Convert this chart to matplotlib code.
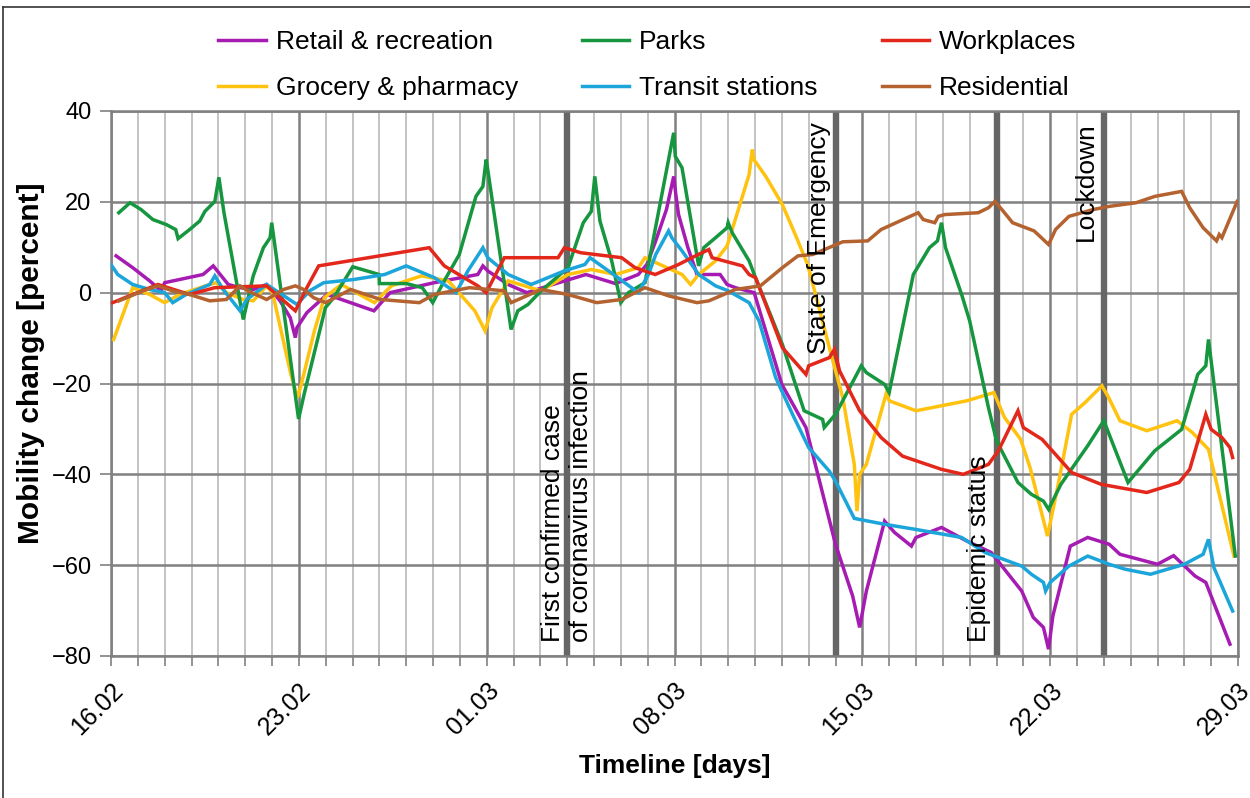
import matplotlib
matplotlib.use("Agg")
import matplotlib.pyplot as plt
from matplotlib.lines import Line2D
from matplotlib.ticker import MultipleLocator, FixedLocator

plt.rcParams['font.family'] = ['Liberation Sans', 'DejaVu Sans']

# ---- data (day index: 0 = 16.02, 42 = 29.03) ----
tick_days = [0, 7, 14, 21, 28, 35, 42]
tick_labels = ["16.02", "23.02", "01.03", "08.03", "15.03", "22.03", "29.03"]

retail_x = [0.19, 0.81, 1.44, 1.87, 2.0, 3.43, 3.81, 4.37, 4.81, 5.3, 5.8, 6.3, 6.68, 6.87, 6.93, 7.3, 8.05, 9.8, 10.4,
            12.05, 13.67, 13.86, 14.04, 14.8, 15.5, 16.3, 17.7, 18.8, 19.65, 19.97, 20.3, 20.7, 20.97, 21.05, 21.15, 21.5,
            21.84, 22.7, 22.96, 23.27, 23.97, 25.0, 25.9, 27.0, 27.64, 27.9, 28.15, 28.83, 29.2, 29.83, 30.0, 30.95, 31.9,
            32.8, 33.94, 34.37, 34.75, 34.94, 35.1, 35.75, 36.4, 37.2, 37.6, 39.0, 39.6, 40.4, 40.8, 41.7]
retail_y = [8.1, 5.5, 2.6, 0.4, 2.2, 4.0, 5.9, 1.8, 1.1, 0.7, 1.8, -1.8, -5.5, -9.9, -7.7, -4.4, -0.4, -4.0, 0.0,
            2.2, 4.0, 5.9, 4.8, 1.8, 0.0, 1.5, 4.0, 2.0, 4.0, 6.2, 11.4, 18.3, 25.6, 21.6, 17.2, 9.9,
            4.0, 4.0, 1.8, 1.1, 0.0, -20.2, -29.7, -55.4, -66.8, -73.7, -65.7, -50.3, -52.8, -55.8, -53.9, -51.7, -54.7,
            -57.2, -65.7, -71.5, -73.7, -78.5, -71.2, -55.8, -53.9, -55.4, -57.6, -59.8, -57.9, -62.4, -63.8, -77.4]

grocery_x = [0.1, 0.81, 1.44, 2.0, 2.56, 3.68, 3.93, 4.3, 4.93, 5.3, 5.8, 6.02, 6.7, 6.95, 7.08, 7.58, 7.95, 8.58, 9.82,
             10.45, 11.57, 12.57, 13.56, 13.94, 14.2, 14.8, 16.03, 17.03, 17.9, 18.8, 19.65, 19.9, 21.28, 21.6, 21.9,
             22.53, 22.96, 23.4, 23.78, 23.9, 23.96, 24.4, 25.02, 25.5, 25.96, 26.27, 26.77, 27.27, 27.7, 27.8, 27.9,
             28.15, 28.9, 29.0, 30.0, 31.9, 32.9, 33.3, 33.9, 34.25, 34.9, 35.3, 35.8, 36.3, 36.93, 37.18, 37.6, 38.6,
             39.73, 40.3, 40.9, 41.85]
grocery_y = [-10.3, 1.1, -0.4, -2.2, -0.4, 1.8, 2.2, 0.0, -1.5, -1.8, 1.5, 0.0, -17.9, -23.1, -20.5, -8.4, -1.1, 1.8, -2.2,
             1.5, 3.7, 2.6, -4.0, -8.4, -3.3, 2.6, 0.4, 4.0, 5.1, 4.0, 5.5, 7.7, 4.0, 1.8, 4.0,
             7.0, 10.3, 18.7, 26.0, 31.5, 29.3, 25.6, 19.4, 12.8, 6.2, -0.7, -12.1, -23.1, -37.8, -48.1, -40.0,
             -37.8, -22.0, -23.8, -26.0, -23.8, -22.0, -27.5, -32.3, -38.5, -53.6, -42.2, -26.8, -24.2, -20.5, -23.1, -28.2, -30.4,
             -28.2, -30.8, -34.5, -58.0]

parks_x = [0.29, 0.71, 1.12, 1.56, 2.06, 2.41, 2.5, 2.93, 3.31, 3.5, 3.87, 4.02, 4.21, 4.93, 5.3, 5.68, 5.93, 5.99, 6.99,
           7.2, 7.99, 8.3, 9.01, 9.99, 10.0, 11.01, 11.6, 11.99, 12.42, 12.98, 13.6, 13.86, 13.98, 14.04, 14.91, 15.16,
           15.54, 16.03, 17.03, 17.6, 17.9, 18.03, 18.22, 18.66, 19.0, 19.28, 19.9, 20.97, 21.03, 21.28, 21.9, 22.09,
           22.53, 22.96, 23.0, 23.15, 23.78, 24.02, 25.02, 25.83, 26.52, 26.58, 27.0, 27.96, 28.15, 28.83, 29.0, 29.9,
           30.5, 30.8, 30.95, 31.1, 31.7, 32.0, 32.7, 33.0, 33.8, 34.3, 34.75, 34.94, 35.4, 36.4, 37.0, 37.9, 38.9,
           39.9, 40.5, 40.8, 40.9, 41.9]
parks_y = [17.6, 19.8, 18.3, 16.1, 15.0, 13.9, 11.9, 13.9, 15.8, 17.9, 20.1, 25.4, 17.6, -5.9, 3.7, 9.9, 12.1, 15.4, -27.8,
           -22.3, -3.3, -1.1, 5.7, 4.0, 2.0, 2.0, 1.1, -2.2, 2.6, 8.4, 21.2, 23.4, 29.3, 27.1, -8.1, -4.0,
           -2.6, 0.4, 5.5, 15.4, 17.9, 25.6, 15.8, 7.0, -2.2, 0.0, 2.2, 35.2, 30.0, 27.5, 5.9, 9.9,
           12.1, 14.3, 15.4, 13.2, 7.0, 3.3, -11.4, -26.0, -27.9, -29.7, -26.8, -16.1, -17.6, -20.2, -22.0, 4.0,
           9.9, 11.4, 15.4, 9.9, -0.4, -6.2, -25.3, -32.6, -41.8, -44.4, -45.9, -47.7, -42.2, -33.7, -28.2, -41.8, -34.8,
           -30.1, -18.0, -16.1, -10.3, -58.0]

transit_x = [0.0, 0.25, 0.81, 1.44, 2.0, 2.3, 2.8, 3.68, 3.87, 4.18, 4.81, 5.06, 5.8, 6.93, 7.4, 7.93, 9.05, 10.2, 11.0,
             12.05, 12.86, 13.3, 13.86, 14.04, 14.8, 15.66, 16.9, 17.66, 17.85, 18.8, 19.65, 20.03, 20.3, 20.78, 20.9,
             21.28, 21.9, 22.53, 23.0, 23.78, 24.15, 24.77, 25.4, 26.0, 26.77, 27.0, 27.7, 28.83, 29.96, 31.7, 32.57,
             33.94, 34.3, 34.75, 34.83, 35.0, 35.7, 36.4, 37.2, 37.8, 38.74, 40.0, 40.7, 40.9, 41.1, 41.8]
transit_y = [6.2, 4.0, 1.8, 0.7, 0.0, -2.2, -0.4, 1.8, 3.7, 0.7, -4.0, -1.5, 1.8, -2.6, 0.4, 2.2, 2.9, 4.0, 5.9,
             3.3, 0.0, 4.8, 9.9, 7.7, 4.0, 1.8, 4.8, 6.2, 7.7, 3.7, 0.0, 4.0, 8.4, 13.6, 12.1,
             9.2, 4.0, 1.5, 0.4, -2.2, -6.2, -18.7, -26.8, -34.1, -39.3, -41.5, -49.7, -51.0, -52.1, -53.9, -57.2,
             -60.2, -62.0, -63.8, -65.7, -63.8, -60.2, -58.0, -59.8, -60.9, -62.0, -59.8, -57.6, -54.3, -60.5, -70.1]

work_x = [0.06, 0.81, 1.75, 2.93, 3.87, 5.8, 6.87, 7.3, 7.74, 11.86, 12.42, 13.67, 13.98, 14.66, 16.66, 16.9, 17.5,
          19.03, 19.53, 20.28, 21.15, 21.78, 22.28, 22.4, 23.53, 23.78, 24.02, 25.02, 25.9, 26.0, 26.77, 26.96, 27.15,
          27.9, 28.7, 29.5, 30.95, 31.76, 32.7, 33.07, 33.8, 34.0, 34.7, 35.8, 36.9, 38.6, 39.8, 40.2, 40.8, 41.0,
          41.4, 41.7, 41.8]
work_y = [-2.2, -0.4, 1.8, -0.4, 1.1, 1.5, -4.0, 1.1, 5.9, 9.9, 5.9, 1.5, 0.0, 7.7, 7.7, 9.9, 8.8,
          7.7, 5.5, 4.0, 6.2, 8.1, 9.5, 7.7, 5.9, 4.0, 3.3, -12.1, -18.0, -16.1, -14.3, -12.5, -17.2,
          -26.0, -31.9, -36.0, -38.9, -40.0, -37.8, -34.8, -26.0, -29.7, -32.3, -39.6, -42.2, -44.0, -41.8, -38.9, -26.8, -30.1,
          -31.9, -34.1, -36.3]

resid_x = [0.3, 1.19, 1.75, 2.3, 2.93, 3.68, 4.3, 4.81, 5.1, 5.8, 6.43, 6.87, 7.18, 7.55, 8.0, 8.93, 10.05, 11.49, 12.05,
           13.36, 14.66, 14.91, 16.03, 17.03, 18.1, 19.03, 19.9, 20.78, 21.84, 22.28, 23.27, 24.2, 25.02, 25.6, 26.15,
           27.27, 28.2, 28.7, 30.08, 30.27, 30.7, 30.83, 31.08, 32.32, 32.7, 32.94, 33.2, 33.6, 34.4, 34.6, 34.94,
           35.2, 35.7, 36.6, 37.2, 38.2, 38.9, 39.9, 40.2, 40.7, 41.2, 41.3, 41.4, 41.97]
resid_y = [-1.8, 0.4, 1.5, 0.4, -0.4, -1.8, -1.5, 1.5, 0.4, -1.5, 0.7, 1.5, 0.7, -1.1, -2.2, 0.7, -1.5, -2.2, -0.4,
           1.1, 0.4, -2.2, 0.7, -0.4, -2.2, -1.5, 1.1, -0.7, -2.2, -1.8, 0.7, 1.5, 5.5, 8.1, 8.4,
           11.2, 11.4, 13.9, 17.6, 16.1, 15.4, 16.8, 17.2, 17.6, 18.7, 20.1, 18.3, 15.4, 13.6, 12.5, 10.6,
           13.9, 16.8, 18.3, 19.0, 19.8, 21.2, 22.3, 18.7, 14.3, 11.4, 12.8, 12.1, 20.1]

events_x = [17, 27, 33, 37]
events_text = ["First confirmed case\nof coronavirus infection", "State of Emergency", "Epidemic status", "Lockdown"]

series = [
    ("Retail & recreation", retail_x, retail_y, "#A61CB3"),
    ("Grocery & pharmacy", grocery_x, grocery_y, "#FFC20E"),
    ("Parks", parks_x, parks_y, "#16963F"),
    ("Transit stations", transit_x, transit_y, "#1CA5DA"),
    ("Workplaces", work_x, work_y, "#E3271B"),
    ("Residential", resid_x, resid_y, "#B4622F"),
]

W, H = 1250, 798
fig = plt.figure(figsize=(W / 100, H / 100), dpi=100)
ax = fig.add_axes([111 / W, 1 - 656 / H, (1238 - 111) / W, (656 - 111) / H])

grid_major = "#808080"
grid_minor = "#b3b3b3"

ax.set_xlim(0, 42)
ax.set_ylim(-80, 40)
ax.xaxis.set_major_locator(FixedLocator(tick_days))
ax.xaxis.set_minor_locator(MultipleLocator(1))
ax.yaxis.set_major_locator(MultipleLocator(20))
ax.set_xticklabels(tick_labels, rotation=45, ha="right", va="top", rotation_mode="anchor")
ax.grid(which="major", axis="both", color=grid_major, lw=1.8, zorder=0)
ax.grid(which="minor", axis="x", color=grid_minor, lw=1.1, zorder=0)
ax.set_axisbelow(True)
for s in ax.spines.values():
    s.set_color(grid_major)
    s.set_linewidth(1.8)
ax.tick_params(axis="both", which="both", direction="out", color=grid_major, width=1.2)
ax.tick_params(axis="x", which="major", length=7, pad=9, labelsize=18)
ax.tick_params(axis="x", which="minor", length=7)
ax.tick_params(axis="y", which="major", length=8, pad=6, labelsize=17)

for xe in events_x:
    ax.axvline(xe, color="#666666", lw=4.6, zorder=1)

handles = []
for name, xs, ys, col in series:
    h, = ax.plot(xs, ys, color=col, lw=2.5, label=name, zorder=3, solid_joinstyle="miter")
    handles.append(h)

fs_ev = 19
ax.text(17, -77, events_text[0], rotation=90, ha="center", va="bottom", multialignment="left", fontsize=fs_ev, zorder=4)
ax.text(26.85, 37.6, events_text[1], rotation=90, ha="right", va="top", fontsize=fs_ev, zorder=4)
ax.text(32.78, -77, events_text[2], rotation=90, ha="right", va="bottom", fontsize=fs_ev, zorder=4)
ax.text(36.78, 37.6, events_text[3], rotation=90, ha="right", va="top", fontsize=fs_ev, zorder=4)

ax.set_xlabel("Timeline [days]", fontsize=19, fontweight="bold", labelpad=10)
ax.set_ylabel("Mobility change [percent]", fontsize=21.5, fontweight="bold")
ax.yaxis.set_label_coords(-0.059, 0.538)

fig.legend(handles=handles, loc="upper left", bbox_to_anchor=(218 / W, 1 - 30 / H), ncol=3, frameon=False,
           fontsize=19, handlelength=1.8, handletextpad=0.38, columnspacing=2.42, labelspacing=0.85,
           borderpad=0, borderaxespad=0)

# figure frame
fig.add_artist(Line2D([3 / W, 3 / W], [0, 1 - 7 / H], transform=fig.transFigure, color="#333333", lw=1.2))
fig.add_artist(Line2D([3 / W, 1], [1 - 7 / H, 1 - 7 / H], transform=fig.transFigure, color="#333333", lw=1.2))

fig.savefig("out.png", dpi=100)
